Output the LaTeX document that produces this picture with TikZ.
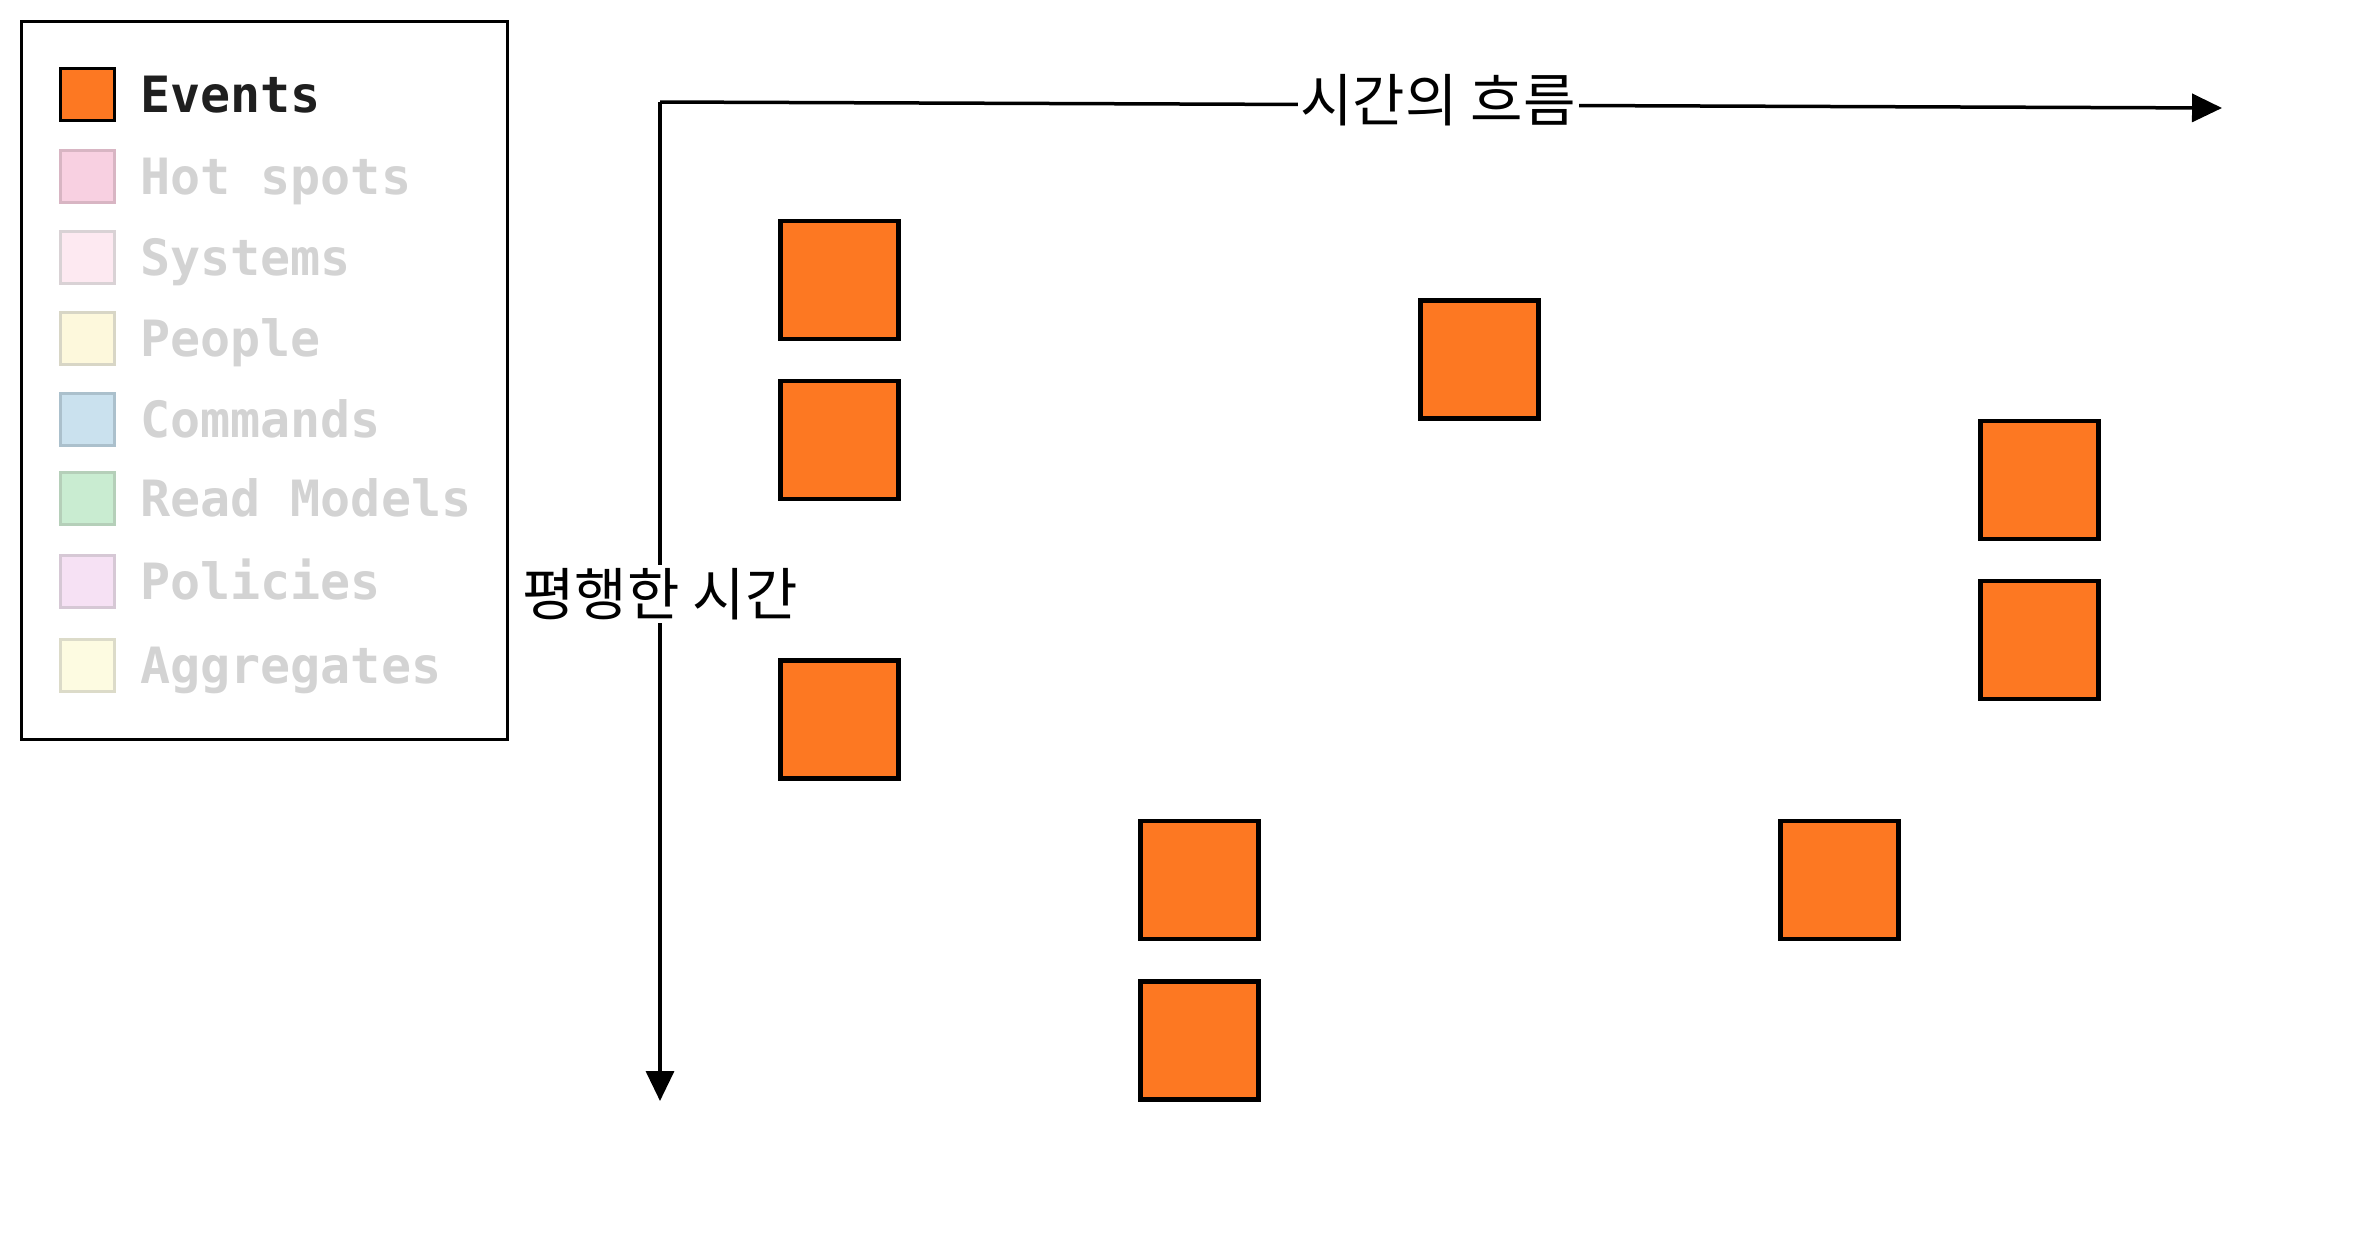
\documentclass[tikz,border=0pt]{standalone}
\usepackage{fontspec}
\setmonofont{DejaVu Sans Mono}
\newfontfamily\kofont{Noto Sans CJK KR}
\usetikzlibrary{arrows.meta}
\definecolor{evt}{HTML}{FD7822}
\definecolor{fadetxt}{HTML}{D3D3D3}
\definecolor{hsd}{HTML}{D8B5C3}\definecolor{hsf}{HTML}{F8D0E1}
\definecolor{syd}{HTML}{D9D2D5}\definecolor{syf}{HTML}{FDE9F1}
\definecolor{ped}{HTML}{D8D6C6}\definecolor{pef}{HTML}{FDF8DC}
\definecolor{cmd}{HTML}{ABC0CC}\definecolor{cmf}{HTML}{CAE1EE}
\definecolor{rmd}{HTML}{B5CFB9}\definecolor{rmf}{HTML}{C9ECD1}
\definecolor{pod}{HTML}{D6C8D5}\definecolor{pof}{HTML}{F6E1F4}
\definecolor{agd}{HTML}{DCDBC9}\definecolor{agf}{HTML}{FDFBE1}
\tikzset{
  evbox/.style={draw=black, line width=4.5pt, fill=evt, minimum width=118pt, minimum height=118pt, inner sep=0pt},
  swatch/.style={line width=3pt, minimum width=54pt, minimum height=52pt, inner sep=0pt},
  legtxt/.style={anchor=west, font=\fontsize{50}{50}\selectfont\ttfamily\bfseries, text height=36pt, text depth=0pt, inner sep=0pt},
  axis/.style={line width=3.5pt, -{Triangle[length=30pt,width=28pt]}},
  axlabel/.style={fill=white, inner sep=3pt, font=\fontsize{57}{57}\selectfont\kofont}
}
\begin{document}
\begin{tikzpicture}[x=1pt,y=-1pt]
\useasboundingbox (0,0) rectangle (2353,1248);
% legend frame
\node[draw=black, line width=3pt, minimum width=486pt, minimum height=718pt, inner sep=0pt, anchor=north west] (legend) at (20,20) {};
% legend rows
\node[swatch, draw=black, fill=evt] (s1) at (87,94.5) {};
\node[legtxt, text=black!88] (t1) at (140,94.5) {Events};
\node[swatch, draw=hsd, fill=hsf] (s2) at (87,176) {};
\node[legtxt, text=fadetxt] (t2) at (140,176) {Hot spots};
\node[swatch, draw=syd, fill=syf] (s3) at (87,257) {};
\node[legtxt, text=fadetxt] (t3) at (140,257) {Systems};
\node[swatch, draw=ped, fill=pef] (s4) at (87,338) {};
\node[legtxt, text=fadetxt] (t4) at (140,338) {People};
\node[swatch, draw=cmd, fill=cmf] (s5) at (87,419) {};
\node[legtxt, text=fadetxt] (t5) at (140,419) {Commands};
\node[swatch, draw=rmd, fill=rmf] (s6) at (87,498) {};
\node[legtxt, text=fadetxt] (t6) at (140,498) {Read Models};
\node[swatch, draw=pod, fill=pof] (s7) at (87,581) {};
\node[legtxt, text=fadetxt] (t7) at (140,581) {Policies};
\node[swatch, draw=agd, fill=agf] (s8) at (87,665) {};
\node[legtxt, text=fadetxt] (t8) at (140,665) {Aggregates};
% axes
\coordinate (origin) at (660,102);
\coordinate (hend) at (2222,108);
\coordinate (vend) at (660,1101);
\draw[axis] (origin) -- (hend);
\draw[axis] (origin) -- (vend);
\node[axlabel] (hlabel) at (1438,100) {시간의 흐름};
\node[axlabel] (vlabel) at (660,594) {평행한 시간};
% events
\node[evbox] (e1) at (839.5,280) {};
\node[evbox] (e2) at (839.5,440) {};
\node[evbox] (e3) at (839.5,719.5) {};
\node[evbox] (e4) at (1479.5,359.5) {};
\node[evbox] (e5) at (2039.5,480) {};
\node[evbox] (e6) at (2039.5,640) {};
\node[evbox] (e7) at (1199.5,880) {};
\node[evbox] (e8) at (1199.5,1040.5) {};
\node[evbox] (e9) at (1839.5,880) {};
\end{tikzpicture}
\end{document}
